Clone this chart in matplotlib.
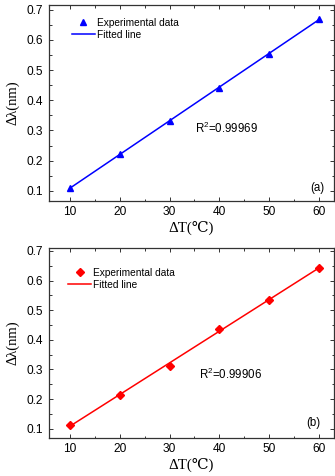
import numpy as np
import matplotlib
matplotlib.use("Agg")
import matplotlib.pyplot as plt
from matplotlib.ticker import MultipleLocator

dT = [10, 20, 30, 40, 50, 60]
dl_a = [0.110, 0.221, 0.331, 0.441, 0.554, 0.671]
dl_b = [0.112, 0.215, 0.313, 0.435, 0.535, 0.644]
r2_a = "R$^2$=0.99969"
r2_b = "R$^2$=0.99906"

plt.rcParams['font.family'] = ['Liberation Sans', 'DejaVu Sans']
plt.rcParams['mathtext.fontset'] = 'custom'
plt.rcParams['mathtext.rm'] = 'Liberation Sans'
plt.rcParams['mathtext.it'] = 'Liberation Sans:italic'
serif = ['Liberation Serif', 'DejaVu Serif', 'DejaVu Sans']

fig = plt.figure(figsize=(3.35, 4.76), dpi=100)
ax1 = fig.add_axes([0.146, 0.578, 0.851, 0.4115])
ax2 = fig.add_axes([0.146, 0.080, 0.851, 0.399])

panels = [
    (ax1, dl_a, 'blue', '^', r2_a, '(a)', (0.0665, 0.716), (35.2, 0.306),
     (0.08, 0.934), (0.968, 0.035)),
    (ax2, dl_b, 'red', 'D', r2_b, '(b)', (0.069, 0.710), (36.0, 0.283),
     (0.067, 0.895), (0.951, 0.047)),
]

for ax, y, col, mk, r2, lab, ylim, r2pos, legpos, labpos in panels:
    x = np.array(dT, dtype=float)
    yy = np.array(y)
    p = np.polyfit(x, yy, 1)
    ax.plot(x, yy, linestyle='none', marker=mk, color=col,
            markersize=4.6 if mk == '^' else 3.8, label='Experimental data')
    ax.plot(x, np.polyval(p, x), color=col, lw=1.1, label='Fitted line')
    ax.set_xlim(5.8, 63.0)
    ax.set_ylim(*ylim)
    ax.xaxis.set_major_locator(MultipleLocator(10))
    ax.xaxis.set_minor_locator(MultipleLocator(5))
    ax.yaxis.set_major_locator(MultipleLocator(0.1))
    ax.yaxis.set_minor_locator(MultipleLocator(0.05))
    ax.tick_params(which='both', direction='in', top=True, right=True,
                   labelsize=8.6, width=0.7, colors='#333333', labelcolor='black')
    ax.tick_params(which='major', length=3, pad=4)
    ax.tick_params(which='minor', length=1.8)
    for s in ax.spines.values():
        s.set_linewidth(0.9)
        s.set_color('#333333')
    ax.set_xlabel('ΔT(℃)', family=serif, fontsize=10.8, labelpad=1.5)
    ax.set_ylabel('Δλ(nm)', family=serif, fontsize=10.5, labelpad=5)
    ax.text(r2pos[0], r2pos[1], r2, fontsize=8.3, va='center', ha='left')
    ax.text(labpos[0], labpos[1], lab, transform=ax.transAxes, fontsize=8.3,
            ha='right', va='bottom')
    ax.legend(loc='upper left', bbox_to_anchor=legpos, frameon=False,
              fontsize=7.3, numpoints=1, handlelength=2.3, handletextpad=0.2,
              labelspacing=0.2, borderaxespad=0, borderpad=0)

fig.savefig('out.png', dpi=100)
